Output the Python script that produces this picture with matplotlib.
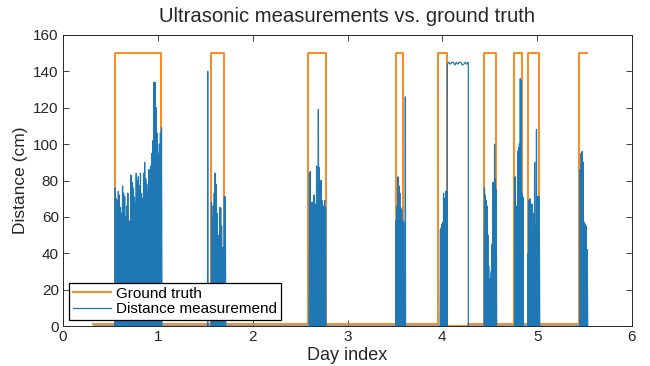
import numpy as np
import matplotlib
matplotlib.use('Agg')
import matplotlib.pyplot as plt

plt.rcParams['font.family'] = ['Liberation Sans', 'DejaVu Sans']

# ground truth: day where the level changes and the level (cm) from there on
gt_day = [0.32, 0.55, 1.03, 1.56, 1.70, 2.58, 2.77, 3.51, 3.58, 3.95, 4.05,
          4.27, 4.44, 4.57, 4.76, 4.84, 4.90, 5.02, 5.44, 5.53]
gt_cm = [1, 150, 1, 150, 1, 150, 1, 150, 1, 150, 0,
         1, 150, 1, 150, 1, 150, 1, 150, 150]

# ultrasonic bursts: start day, end day and the peak readings (cm) in between
burst_start = [0.545, 1.524, 1.561, 2.594, 3.508, 3.608, 3.976, 4.440, 4.763, 4.900, 5.448]
burst_end = [1.044, 1.528, 1.716, 2.773, 3.596, 3.612, 4.050, 4.573, 4.854, 5.027, 5.533]
burst_peaks = [
    [76, 70, 69, 74, 72, 65, 62, 77, 73, 71, 60, 66, 73, 58, 55, 83, 79, 76, 71,
     68, 84, 80, 82, 77, 84, 73, 70, 84, 90, 81, 78, 74, 86, 80, 88, 95, 102,
     134, 134, 120, 106, 95, 100, 106, 109],
    [140],
    [68, 60, 66, 73, 84, 78, 62, 50, 40, 65, 65, 55, 43, 43, 71, 71],
    [84, 85, 55, 68, 50, 72, 60, 67, 88, 67, 119, 87, 70, 80, 69, 62, 66, 69, 65],
    [58, 66, 82, 77, 73, 65, 64, 58, 57],
    [126],
    [53, 54, 56, 57, 73, 70, 66, 74, 74],
    [76, 72, 69, 66, 50, 33, 13, 26, 30, 45, 79, 72, 100, 81, 75],
    [82, 62, 66, 96, 98, 100, 136, 135, 73, 71],
    [40, 69, 70, 67, 67, 35, 62, 90, 55, 108, 71, 71, 71],
    [86, 95, 96, 90, 57, 56, 55, 42],
]

# sensor stuck near its max range after the 4th day
stuck_start, stuck_end = 4.053, 4.274
stuck_cm = [144, 145, 144, 145, 145, 143.5, 145, 144, 145, 145, 143.5, 144, 145, 144, 145]

# assemble the measurement trace
meas_x = [gt_day[0]]
meas_y = [0]
for s, e, peaks in zip(burst_start, burst_end, burst_peaks):
    xs = np.linspace(s, e, 2 * len(peaks) + 1)
    ys = [0] * len(xs)
    ys[1::2] = peaks
    meas_x.extend(xs)
    meas_y.extend(ys)
    if s == 3.976:
        meas_x.extend(np.linspace(stuck_start, stuck_end, len(stuck_cm)))
        meas_y.extend(stuck_cm)
        meas_x.append(stuck_end)
        meas_y.append(0)

fig = plt.figure(figsize=(6.5, 3.66), dpi=100)
ax = fig.add_axes([63 / 650, 40 / 366, 569 / 650, 291 / 366])

ax.step(gt_day, gt_cm, where='post', color='#ff7f0e', lw=1.3, label='Ground truth')
ax.plot(meas_x, meas_y, color='#1f77b4', lw=0.9, label='Distance measuremend')

ax.set_xlim(0, 6)
ax.set_ylim(0, 160)
ax.set_xticks(range(7))
ax.set_yticks(range(0, 161, 20))

dark = '#262626'
for sp in ax.spines.values():
    sp.set_color(dark)
    sp.set_linewidth(0.7)
ax.tick_params(direction='in', top=True, right=True, length=4, width=0.6,
               colors=dark, labelsize=11, pad=3)

ax.set_title('Ultrasonic measurements vs. ground truth', fontsize=14.6, color=dark, pad=9)
ax.set_xlabel('Day index', fontsize=13, color=dark, labelpad=2)
ax.set_ylabel('Distance (cm)', fontsize=12.5, color=dark, labelpad=4)

leg = ax.legend(loc='lower left', fontsize=11, frameon=True, fancybox=False,
                framealpha=1, edgecolor='black', borderaxespad=0.4,
                handlelength=2.5, handletextpad=0.35, borderpad=0.25,
                labelspacing=0.1)
leg.get_frame().set_linewidth(0.9)

fig.savefig('out.png', dpi=100)
